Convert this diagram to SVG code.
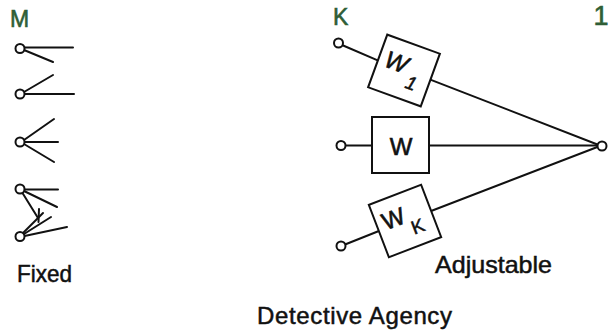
<svg xmlns="http://www.w3.org/2000/svg" width="610" height="332" viewBox="0 0 610 332">
<style>
.ln{stroke:#111;stroke-width:2;fill:none;stroke-linecap:round}
.nd{stroke:#111;stroke-width:2;fill:#fff}
.bx{stroke:#111;stroke-width:2;fill:#fff}
.lbl{font-family:"Liberation Sans",Arial,sans-serif;fill:#111;stroke:#111;stroke-width:0.5}
.grn{font-family:"Liberation Sans",Arial,sans-serif;fill:#2f5e36;stroke:#2f5e36;stroke-width:0.6}
.w{font-family:"Liberation Sans",Arial,sans-serif;fill:#111;font-size:24px;stroke:#111;stroke-width:0.6}
.sub{font-family:"Liberation Sans",Arial,sans-serif;fill:#111;font-size:19px;stroke:#111;stroke-width:0.5}
</style>
<rect width="610" height="332" fill="#fff"/>
<g id="fixed">
  <text class="grn" x="10" y="27" font-size="23">M</text>
  <g id="fan1">
    <line class="ln" x1="24.5" y1="47.5" x2="73" y2="47.5"/>
    <line class="ln" x1="24" y1="50" x2="53" y2="62"/>
    <circle class="nd" cx="20" cy="48.5" r="4.5"/>
  </g>
  <g id="fan2">
    <line class="ln" x1="24.5" y1="94" x2="74" y2="94"/>
    <line class="ln" x1="24" y1="92" x2="53" y2="75"/>
    <circle class="nd" cx="20" cy="94" r="4.5"/>
  </g>
  <g id="fan3">
    <line class="ln" x1="24" y1="140" x2="54" y2="119"/>
    <line class="ln" x1="24.5" y1="142" x2="58" y2="142"/>
    <line class="ln" x1="24" y1="144" x2="54" y2="162"/>
    <circle class="nd" cx="20" cy="142" r="4.5"/>
  </g>
  <g id="fan4">
    <line class="ln" x1="24.5" y1="189.5" x2="58" y2="189.5"/>
    <line class="ln" x1="24" y1="191" x2="57" y2="207"/>
    <line class="ln" x1="22.5" y1="193" x2="38" y2="218"/>
    <line class="ln" x1="39" y1="209" x2="38.5" y2="222"/>
    <line class="ln" x1="23" y1="233" x2="43" y2="213"/>
    <line class="ln" x1="24" y1="234" x2="51" y2="217"/>
    <line class="ln" x1="24.5" y1="236" x2="67" y2="227"/>
    <circle class="nd" cx="20" cy="189" r="4.5"/>
    <circle class="nd" cx="20" cy="236.5" r="4.5"/>
  </g>
  <text class="lbl" x="17" y="282" font-size="24" textLength="55" lengthAdjust="spacingAndGlyphs">Fixed</text>
</g>
<g id="connectors">
  <line class="ln" x1="342" y1="45" x2="377.7" y2="60.4"/>
  <line class="ln" x1="430.3" y1="79.6" x2="600" y2="145.5"/>
  <line class="ln" x1="345" y1="145.5" x2="372" y2="145.5"/>
  <line class="ln" x1="429" y1="145.5" x2="598" y2="145.5"/>
  <line class="ln" x1="345" y1="244.5" x2="378.9" y2="231"/>
  <line class="ln" x1="431.1" y1="211" x2="600" y2="146"/>
</g>
<g id="node-k">
  <text class="grn" x="333" y="25" font-size="23">K</text>
</g>
<g id="in1"><circle class="nd" cx="338.5" cy="43" r="4.5"/></g>
<g id="in2"><circle class="nd" cx="341" cy="145.5" r="4.5"/></g>
<g id="in3"><circle class="nd" cx="341" cy="246" r="4.5"/></g>
<g id="box-w1" transform="translate(404 70.5) rotate(20)">
  <rect class="bx" x="-28" y="-28" width="56" height="56"/>
  <text class="w" x="-10" y="3" text-anchor="middle" font-style="italic">W</text>
  <text class="sub" x="11" y="16" text-anchor="middle" font-style="italic">1</text>
</g>
<g id="box-w">
  <rect class="bx" x="372" y="117" width="57" height="56"/>
  <text class="w" x="401" y="155" text-anchor="middle" font-size="20">W</text>
</g>
<g id="box-wk" transform="translate(405 221) rotate(-21)">
  <rect class="bx" x="-28" y="-28" width="56" height="56"/>
  <text class="w" x="-10" y="2" text-anchor="middle">W</text>
  <text class="sub" x="10" y="16" text-anchor="middle">K</text>
</g>
<g id="out">
  <circle class="nd" cx="602" cy="146" r="4.5"/>
  <text class="grn" x="601" y="25" font-size="27" text-anchor="middle" font-family="Liberation Mono">1</text>
</g>
<text class="lbl" x="435" y="273" font-size="24" textLength="117" lengthAdjust="spacingAndGlyphs">Adjustable</text>
<text class="lbl" x="257" y="324" font-size="24" textLength="195">Detective Agency</text>
</svg>
